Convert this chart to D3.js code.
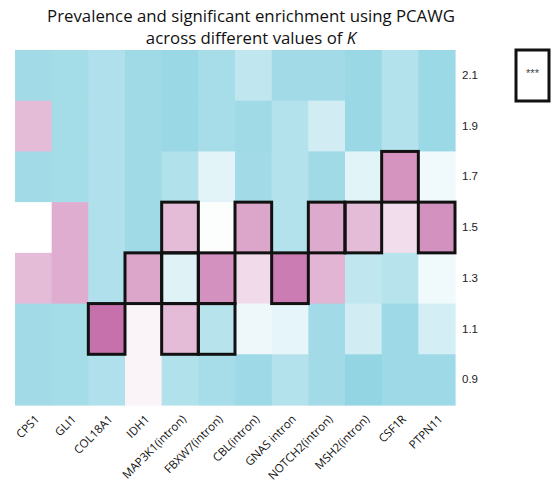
<!DOCTYPE html>
<html>
<head>
<meta charset="utf-8">
<script src="https://cdn.jsdelivr.net/npm/d3@7"></script>
<style>
  body { margin: 0; background: #fff; }
  svg { display: block; }
</style>
</head>
<body>
<div id="chart"></div>
<script>

// genes along the x axis
var genes = ["CPS1", "GLI1", "COL18A1", "IDH1", "MAP3K1(intron)", "FBXW7(intron)",
             "CBL(intron)", "GNAS intron", "NOTCH2(intron)", "MSH2(intron)", "CSF1R", "PTPN11"];

// values of K, top to bottom
var kValues = ["2.1", "1.9", "1.7", "1.5", "1.3", "1.1", "0.9"];

// enrichment score per row (negative = depleted / cyan, positive = enriched / magenta)
var scoreK21 = [-0.82, -0.80, -0.70, -0.83, -0.88, -0.77, -0.55, -0.82, -0.82, -0.88, -0.66, -0.87];
var scoreK19 = [ 0.45, -0.80, -0.70, -0.83, -0.88, -0.77, -0.83, -0.66, -0.40, -0.88, -0.66, -0.87];
var scoreK17 = [-0.82, -0.80, -0.70, -0.83, -0.68, -0.25, -0.82, -0.66, -0.83, -0.26,  0.72, -0.13];
var scoreK15 = [ 0.00,  0.55, -0.70, -0.83,  0.45, -0.03,  0.60, -0.66,  0.58,  0.45,  0.23,  0.74];
var scoreK13 = [ 0.45,  0.55, -0.70,  0.60, -0.28,  0.74,  0.24,  0.88,  0.50, -0.55, -0.64, -0.13];
var scoreK11 = [-0.82, -0.80,  0.95,  0.08,  0.45, -0.64, -0.15, -0.22, -0.82, -0.40, -0.86, -0.39];
var scoreK09 = [-0.82, -0.80, -0.70,  0.08, -0.68, -0.77, -0.86, -0.66, -0.82, -0.95, -0.86, -0.86];

// significance (***) flags per row
var sigK21 = [0,0,0,0,0,0,0,0,0,0,0,0];
var sigK19 = [0,0,0,0,0,0,0,0,0,0,0,0];
var sigK17 = [0,0,0,0,0,0,0,0,0,0,1,0];
var sigK15 = [0,0,0,0,1,0,1,0,1,1,0,1];
var sigK13 = [0,0,0,1,1,1,0,1,0,0,0,0];
var sigK11 = [0,0,1,0,1,1,0,0,0,0,0,0];
var sigK09 = [0,0,0,0,0,0,0,0,0,0,0,0];

var scores = [scoreK21, scoreK19, scoreK17, scoreK15, scoreK13, scoreK11, scoreK09];
var sigs = [sigK21, sigK19, sigK17, sigK15, sigK13, sigK11, sigK09];

var width = 556, height = 487;
var margin = {top: 50, right: 101, bottom: 82, left: 15};

var svg = d3.select("#chart")
    .append("svg")
    .attr("width", width)
    .attr("height", height);

// build cell table from the arrays
var cells = [];
kValues.forEach(function(k, i) {
    genes.forEach(function(g, j) {
        cells.push({gene: g, k: k, value: scores[i][j], sig: sigs[i][j]});
    });
});

var x = d3.scaleBand()
    .domain(genes)
    .range([margin.left, width - margin.right]);

var y = d3.scaleBand()
    .domain(kValues)
    .range([margin.top, height - margin.bottom]);

var color = d3.scaleLinear()
    .domain([-1, 0, 1])
    .range(["#8dd3e2", "#ffffff", "#c46aa8"]);

// title
var title = svg.append("text")
    .attr("x", 251)
    .attr("y", 22)
    .attr("text-anchor", "middle")
    .attr("font-family", "'Open Sans', sans-serif")
    .attr("font-size", "16.8px")
    .attr("fill", "#111");
title.append("tspan").attr("x", 251).attr("dy", 0)
    .text("Prevalence and significant enrichment using PCAWG");
title.append("tspan").attr("x", 251).attr("dy", "22px")
    .text("across different values of ");
title.append("tspan").attr("font-style", "italic").text("K");

// heatmap cells
svg.append("g")
    .selectAll("rect")
    .data(cells)
    .enter()
    .append("rect")
    .attr("x", d => x(d.gene))
    .attr("y", d => y(d.k))
    .attr("width", x.bandwidth() + 0.6)
    .attr("height", y.bandwidth() + 0.6)
    .attr("fill", d => color(d.value));

// significance boxes
svg.append("g")
    .selectAll("rect")
    .data(cells.filter(d => d.sig == 1))
    .enter()
    .append("rect")
    .attr("x", d => x(d.gene))
    .attr("y", d => y(d.k))
    .attr("width", x.bandwidth())
    .attr("height", y.bandwidth())
    .attr("fill", "none")
    .attr("stroke", "#111")
    .attr("stroke-width", 3);

// y axis (right side)
var yAxis = d3.axisRight(y).tickSize(0).tickPadding(7);
var yg = svg.append("g")
    .attr("transform", "translate(" + (width - margin.right) + ",0)")
    .call(yAxis);
yg.select(".domain").remove();
yg.selectAll("text")
    .attr("font-family", "'Liberation Sans', Arial, sans-serif")
    .attr("font-size", "11.5px")
    .attr("fill", "#222");

// x axis (rotated labels)
var xAxis = d3.axisBottom(x).tickSize(0).tickPadding(0);
var xg = svg.append("g")
    .attr("transform", "translate(0," + (height - margin.bottom) + ")")
    .call(xAxis);
xg.select(".domain").remove();
xg.selectAll("text")
    .attr("font-family", "'Open Sans', sans-serif")
    .attr("font-size", "11.5px")
    .attr("fill", "#111")
    .attr("text-anchor", "end")
    .attr("dy", "0.35em")
    .attr("transform", "translate(4,12) rotate(-45)");

// legend box
svg.append("rect")
    .attr("x", 516)
    .attr("y", 50)
    .attr("width", 33)
    .attr("height", 51)
    .attr("fill", "#fff")
    .attr("stroke", "#111")
    .attr("stroke-width", 3);
svg.append("text")
    .attr("x", 532.5)
    .attr("y", 77)
    .attr("text-anchor", "middle")
    .attr("font-family", "'Liberation Sans', Arial, sans-serif")
    .attr("font-size", "11px")
    .attr("fill", "#444")
    .text("***");

</script>
</body>
</html>
